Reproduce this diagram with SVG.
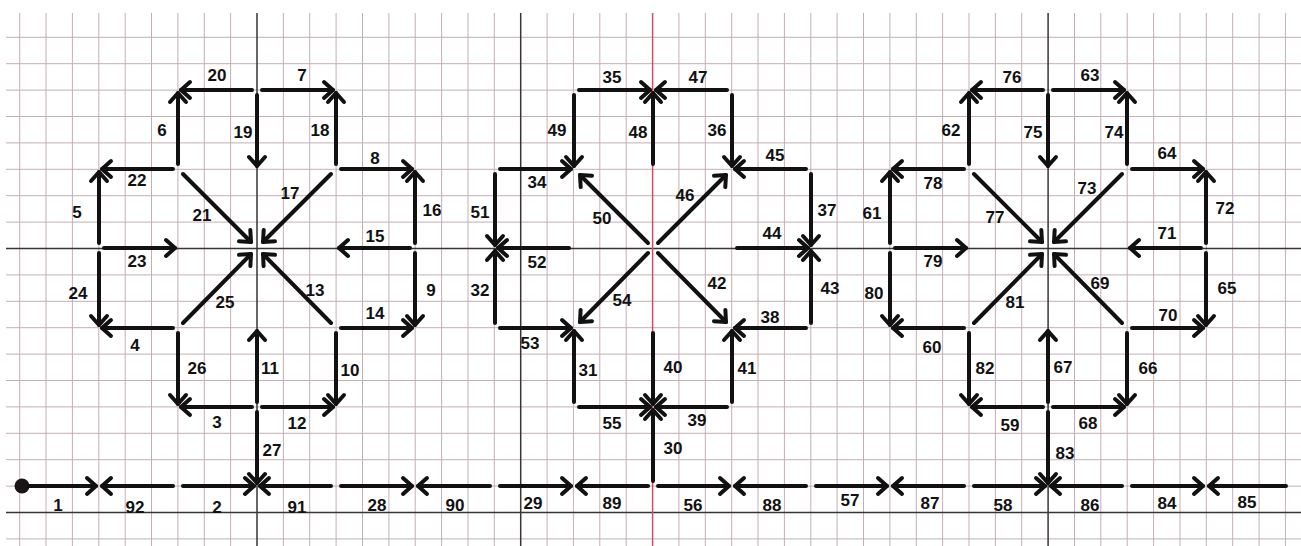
<svg xmlns="http://www.w3.org/2000/svg" width="1301" height="546" viewBox="0 0 1301 546">
<style>
.grid{stroke:#c4aeb5;stroke-width:1;fill:none}
.major{stroke:#3a3436;stroke-width:1.5;fill:none}
.red{stroke:#d8485e;stroke-width:1.5;fill:none}
.c{stroke:#111;stroke-width:4;stroke-linecap:round;fill:none;marker-end:url(#ah)}
.d{stroke:#111;stroke-width:4;stroke-linecap:round;fill:none}
text{font-family:"Liberation Sans",Arial,sans-serif;font-weight:bold;font-size:17px;fill:#111;text-anchor:middle}
</style>
<defs>
<marker id="ah" markerUnits="userSpaceOnUse" markerWidth="30" markerHeight="30" viewBox="-15 -15 30 30" refX="0" refY="0" orient="auto" overflow="visible">
<path d="M-9,-8 L0,0 L-9,8" fill="none" stroke="#111" stroke-width="4" stroke-linecap="round" stroke-linejoin="round"/>
</marker>
</defs>
<rect width="1301" height="546" fill="#fff"/>
<g id="paper">
<path class="grid" d="M6 37.3H1301M6 63.7H1301M6 90.1H1301M6 116.5H1301M6 142.9H1301M6 169.3H1301M6 195.7H1301M6 222.1H1301M6 274.9H1301M6 301.3H1301M6 327.7H1301M6 354.1H1301M6 380.5H1301M6 406.9H1301M6 433.3H1301M6 459.7H1301M6 486.1H1301M6 538.9H1301"/>
<path class="grid" d="M19.7 13V546M46 13V546M72.4 13V546M98.8 13V546M125.2 13V546M151.5 13V546M177.9 13V546M204.3 13V546M230.6 13V546M283.4 13V546M309.7 13V546M336.1 13V546M362.5 13V546M388.9 13V546M415.2 13V546M441.6 13V546M468 13V546M494.3 13V546M547.1 13V546M573.4 13V546M599.8 13V546M626.2 13V546M678.9 13V546M705.3 13V546M731.7 13V546M758 13V546M784.4 13V546M810.8 13V546M837.1 13V546M863.5 13V546M889.9 13V546M916.3 13V546M942.6 13V546M969 13V546M995.4 13V546M1021.7 13V546M1074.5 13V546M1100.8 13V546M1127.2 13V546M1153.6 13V546M1180 13V546M1206.3 13V546M1232.7 13V546M1259.1 13V546M1285.4 13V546"/>
<path class="major" d="M6 248.5H1301M6 512.5H1301M257 13V546M520.7 13V546M1048.1 13V546"/>
<path class="red" d="M652.6 13V546"/>
</g>
<g id="node-start"><circle cx="22" cy="486" r="7.5" fill="#1a1416"/></g>
<g id="connectors">
<g id="e1"><line class="c" x1="29" y1="486" x2="96" y2="486"/><text x="58" y="511">1</text></g>
<g id="e2"><line class="c" x1="183" y1="486" x2="254" y2="486"/><text x="217" y="513">2</text></g>
<g id="e3"><line class="c" x1="252" y1="407" x2="181" y2="407"/><text x="217" y="428">3</text></g>
<g id="e4"><line class="c" x1="173" y1="328" x2="102" y2="328"/><text x="135" y="351">4</text></g>
<g id="e5"><line class="c" x1="99" y1="243" x2="99" y2="172"/><text x="77" y="218">5</text></g>
<g id="e6"><line class="c" x1="178" y1="164" x2="178" y2="93"/><text x="162" y="136">6</text></g>
<g id="e7"><line class="c" x1="262" y1="90" x2="333" y2="90"/><text x="302" y="81">7</text></g>
<g id="e8"><line class="c" x1="341" y1="169" x2="412" y2="169"/><text x="375" y="164">8</text></g>
<g id="e9"><line class="c" x1="415" y1="253" x2="415" y2="325"/><text x="431" y="296">9</text></g>
<g id="e10"><line class="c" x1="336" y1="333" x2="336" y2="404"/><text x="350" y="376">10</text></g>
<g id="e11"><line class="c" x1="257" y1="402" x2="257" y2="331"/><text x="270" y="374">11</text></g>
<g id="e12"><line class="c" x1="262" y1="407" x2="333" y2="407"/><text x="297" y="429">12</text></g>
<g id="e13"><line class="c" x1="331" y1="323" x2="263" y2="254"/><text x="315" y="296">13</text></g>
<g id="e14"><line class="c" x1="341" y1="328" x2="412" y2="328"/><text x="375" y="319">14</text></g>
<g id="e15"><line class="c" x1="410" y1="248" x2="339" y2="248"/><text x="375" y="242">15</text></g>
<g id="e16"><line class="c" x1="415" y1="243" x2="415" y2="172"/><text x="432" y="216">16</text></g>
<g id="e17"><line class="c" x1="331" y1="174" x2="263" y2="242"/><text x="290" y="199">17</text></g>
<g id="e18"><line class="c" x1="336" y1="164" x2="336" y2="93"/><text x="320" y="136">18</text></g>
<g id="e19"><line class="c" x1="257" y1="95" x2="257" y2="166"/><text x="243" y="138">19</text></g>
<g id="e20"><line class="c" x1="252" y1="90" x2="181" y2="90"/><text x="217" y="81">20</text></g>
<g id="e21"><line class="c" x1="183" y1="174" x2="251" y2="242"/><text x="202" y="221">21</text></g>
<g id="e22"><line class="c" x1="173" y1="169" x2="102" y2="169"/><text x="137" y="186">22</text></g>
<g id="e23"><line class="c" x1="104" y1="248" x2="175" y2="248"/><text x="137" y="267">23</text></g>
<g id="e24"><line class="c" x1="99" y1="253" x2="99" y2="325"/><text x="78" y="299">24</text></g>
<g id="e25"><line class="c" x1="183" y1="323" x2="251" y2="254"/><text x="225" y="308">25</text></g>
<g id="e26"><line class="c" x1="178" y1="333" x2="178" y2="404"/><text x="197" y="374">26</text></g>
<g id="e27"><line class="c" x1="257" y1="412" x2="257" y2="483"/><text x="272" y="456">27</text></g>
<g id="e28"><line class="c" x1="341" y1="486" x2="412" y2="486"/><text x="377" y="511">28</text></g>
<g id="e29"><line class="c" x1="500" y1="486" x2="571" y2="486"/><text x="533" y="509">29</text></g>
<g id="e30"><line class="c" x1="653" y1="481" x2="653" y2="410"/><text x="673" y="454">30</text></g>
<g id="e31"><line class="c" x1="574" y1="402" x2="574" y2="331"/><text x="588" y="376">31</text></g>
<g id="e32"><line class="c" x1="495" y1="323" x2="495" y2="251"/><text x="480" y="296">32</text></g>
<g id="e34"><line class="c" x1="500" y1="169" x2="571" y2="169"/><text x="537" y="188">34</text></g>
<g id="e35"><line class="c" x1="579" y1="90" x2="650" y2="90"/><text x="612" y="83">35</text></g>
<g id="e36"><line class="c" x1="732" y1="95" x2="732" y2="166"/><text x="717" y="136">36</text></g>
<g id="e37"><line class="c" x1="811" y1="174" x2="811" y2="245"/><text x="827" y="216">37</text></g>
<g id="e38"><line class="c" x1="806" y1="328" x2="735" y2="328"/><text x="770" y="323">38</text></g>
<g id="e39"><line class="c" x1="727" y1="407" x2="656" y2="407"/><text x="697" y="426">39</text></g>
<g id="e40"><line class="c" x1="653" y1="333" x2="653" y2="404"/><text x="673" y="373">40</text></g>
<g id="e41"><line class="c" x1="732" y1="402" x2="732" y2="331"/><text x="747" y="374">41</text></g>
<g id="e42"><line class="c" x1="658" y1="253" x2="726" y2="322"/><text x="717" y="289">42</text></g>
<g id="e43"><line class="c" x1="811" y1="323" x2="811" y2="251"/><text x="830" y="294">43</text></g>
<g id="e44"><line class="c" x1="737" y1="248" x2="808" y2="248"/><text x="772" y="239">44</text></g>
<g id="e45"><line class="c" x1="806" y1="169" x2="735" y2="169"/><text x="775" y="161">45</text></g>
<g id="e46"><line class="c" x1="658" y1="243" x2="726" y2="175"/><text x="685" y="201">46</text></g>
<g id="e47"><line class="c" x1="727" y1="90" x2="656" y2="90"/><text x="698" y="83">47</text></g>
<g id="e48"><line class="c" x1="653" y1="164" x2="653" y2="93"/><text x="638" y="138">48</text></g>
<g id="e49"><line class="c" x1="574" y1="95" x2="574" y2="166"/><text x="557" y="136">49</text></g>
<g id="e50"><line class="c" x1="648" y1="243" x2="580" y2="175"/><text x="602" y="224">50</text></g>
<g id="e51"><line class="c" x1="495" y1="174" x2="495" y2="245"/><text x="480" y="218">51</text></g>
<g id="e52"><line class="c" x1="569" y1="248" x2="498" y2="248"/><text x="537" y="268">52</text></g>
<g id="e53"><line class="c" x1="500" y1="328" x2="571" y2="328"/><text x="530" y="349">53</text></g>
<g id="e54"><line class="c" x1="648" y1="253" x2="580" y2="322"/><text x="622" y="306">54</text></g>
<g id="e55"><line class="c" x1="579" y1="407" x2="650" y2="407"/><text x="612" y="429">55</text></g>
<g id="e56"><line class="c" x1="658" y1="486" x2="729" y2="486"/><text x="693" y="511">56</text></g>
<g id="e57"><line class="c" x1="816" y1="486" x2="887" y2="486"/><text x="850" y="506">57</text></g>
<g id="e58"><line class="c" x1="974" y1="486" x2="1045" y2="486"/><text x="1003" y="511">58</text></g>
<g id="e59"><line class="c" x1="1043" y1="407" x2="972" y2="407"/><text x="1010" y="431">59</text></g>
<g id="e60"><line class="c" x1="964" y1="328" x2="893" y2="328"/><text x="932" y="353">60</text></g>
<g id="e61"><line class="c" x1="890" y1="243" x2="890" y2="172"/><text x="872" y="219">61</text></g>
<g id="e62"><line class="c" x1="969" y1="164" x2="969" y2="93"/><text x="951" y="136">62</text></g>
<g id="e63"><line class="c" x1="1053" y1="90" x2="1124" y2="90"/><text x="1090" y="81">63</text></g>
<g id="e64"><line class="c" x1="1132" y1="169" x2="1203" y2="169"/><text x="1167" y="159">64</text></g>
<g id="e65"><line class="c" x1="1206" y1="253" x2="1206" y2="325"/><text x="1227" y="294">65</text></g>
<g id="e66"><line class="c" x1="1127" y1="333" x2="1127" y2="404"/><text x="1148" y="374">66</text></g>
<g id="e67"><line class="c" x1="1048" y1="402" x2="1048" y2="331"/><text x="1063" y="373">67</text></g>
<g id="e68"><line class="c" x1="1053" y1="407" x2="1124" y2="407"/><text x="1088" y="429">68</text></g>
<g id="e69"><line class="c" x1="1122" y1="323" x2="1054" y2="254"/><text x="1100" y="289">69</text></g>
<g id="e70"><line class="c" x1="1132" y1="328" x2="1203" y2="328"/><text x="1168" y="321">70</text></g>
<g id="e71"><line class="c" x1="1201" y1="248" x2="1130" y2="248"/><text x="1167" y="239">71</text></g>
<g id="e72"><line class="c" x1="1206" y1="243" x2="1206" y2="172"/><text x="1225" y="214">72</text></g>
<g id="e73"><line class="c" x1="1122" y1="174" x2="1054" y2="242"/><text x="1087" y="194">73</text></g>
<g id="e74"><line class="c" x1="1127" y1="164" x2="1127" y2="93"/><text x="1114" y="138">74</text></g>
<g id="e75"><line class="c" x1="1048" y1="95" x2="1048" y2="166"/><text x="1033" y="138">75</text></g>
<g id="e76"><line class="c" x1="1043" y1="90" x2="972" y2="90"/><text x="1012" y="83">76</text></g>
<g id="e77"><line class="c" x1="974" y1="174" x2="1042" y2="242"/><text x="995" y="223">77</text></g>
<g id="e78"><line class="c" x1="964" y1="169" x2="893" y2="169"/><text x="933" y="189">78</text></g>
<g id="e79"><line class="c" x1="895" y1="248" x2="966" y2="248"/><text x="933" y="267">79</text></g>
<g id="e80"><line class="c" x1="890" y1="253" x2="890" y2="325"/><text x="874" y="299">80</text></g>
<g id="e81"><line class="c" x1="974" y1="323" x2="1042" y2="254"/><text x="1015" y="308">81</text></g>
<g id="e82"><line class="c" x1="969" y1="333" x2="969" y2="404"/><text x="985" y="374">82</text></g>
<g id="e83"><line class="c" x1="1048" y1="412" x2="1048" y2="483"/><text x="1065" y="459">83</text></g>
<g id="e84"><line class="c" x1="1132" y1="486" x2="1203" y2="486"/><text x="1167" y="509">84</text></g>
<g id="e85"><line class="c" x1="1286" y1="486" x2="1209" y2="486"/><text x="1247" y="508">85</text></g>
<g id="e86"><line class="c" x1="1122" y1="486" x2="1051" y2="486"/><text x="1090" y="511">86</text></g>
<g id="e87"><line class="c" x1="964" y1="486" x2="893" y2="486"/><text x="930" y="509">87</text></g>
<g id="e88"><line class="c" x1="806" y1="486" x2="735" y2="486"/><text x="772" y="511">88</text></g>
<g id="e89"><line class="c" x1="648" y1="486" x2="577" y2="486"/><text x="612" y="509">89</text></g>
<g id="e90"><line class="c" x1="490" y1="486" x2="418" y2="486"/><text x="455" y="511">90</text></g>
<g id="e91"><line class="c" x1="331" y1="486" x2="260" y2="486"/><text x="297" y="513">91</text></g>
<g id="e92"><line class="c" x1="173" y1="486" x2="102" y2="486"/><text x="135" y="513">92</text></g>
</g>
</svg>
